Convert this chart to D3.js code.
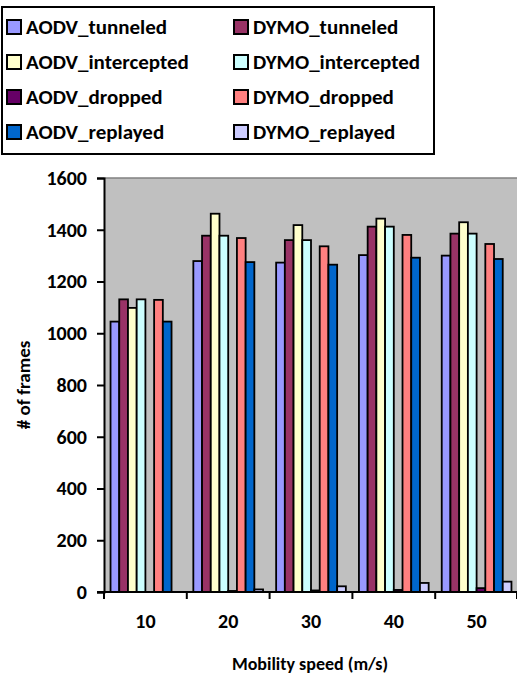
<!DOCTYPE html>
<html>
<head>
<meta charset="utf-8">
<script src="https://cdn.jsdelivr.net/npm/d3@7"></script>
<style>
  html, body { margin: 0; padding: 0; background: #fff; }
  svg { display: block; }
  text { font-family: Carlito, Calibri, Lato, "Open Sans", sans-serif; font-weight: bold; fill: #000; }
</style>
</head>
<body>
<svg id="chart" width="517" height="678"></svg>
<script>
// Mobility speeds on the x axis
const speeds = ["10", "20", "30", "40", "50"];

// Series, in drawing order
const seriesNames = [
  "AODV_tunneled", "DYMO_tunneled",
  "AODV_intercepted", "DYMO_intercepted",
  "AODV_dropped", "DYMO_dropped",
  "AODV_replayed", "DYMO_replayed"
];
const seriesColors = [
  "#9999FF", "#993366",
  "#FFFFCC", "#CCFFFF",
  "#660066", "#FF8080",
  "#0066CC", "#CCCCFF"
];

// Frame counts per series, one value per speed
const AODV_tunneled    = [1045, 1279, 1273, 1302, 1300];
const DYMO_tunneled    = [1131, 1377, 1360, 1412, 1385];
const AODV_intercepted = [1098, 1462, 1418, 1443, 1429];
const DYMO_intercepted = [1131, 1377, 1360, 1412, 1385];
const AODV_dropped     = [0, 4, 6, 8, 15];
const DYMO_dropped     = [1129, 1368, 1336, 1380, 1345];
const AODV_replayed    = [1045, 1275, 1265, 1292, 1287];
const DYMO_replayed    = [0, 10, 22, 35, 40];

const seriesValues = [
  AODV_tunneled, DYMO_tunneled,
  AODV_intercepted, DYMO_intercepted,
  AODV_dropped, DYMO_dropped,
  AODV_replayed, DYMO_replayed
];

const yTicks = [0, 200, 400, 600, 800, 1000, 1200, 1400, 1600];

const svg = d3.select("#chart");

const plot = { left: 104, right: 518, top: 178, bottom: 592 };

const x0 = d3.scaleBand().domain(speeds).range([plot.left, plot.right]).paddingInner(0).paddingOuter(0);
const x1 = d3.scaleBand().domain(seriesNames).range([0, x0.bandwidth()]).paddingInner(0).paddingOuter(0.75);
const y = d3.scaleLinear().domain([0, 1600]).range([plot.bottom, plot.top]);

// Plot background
svg.append("rect")
  .attr("x", plot.left).attr("y", plot.top)
  .attr("width", plot.right - plot.left).attr("height", plot.bottom - plot.top)
  .attr("fill", "#C0C0C0");
svg.append("line")
  .attr("x1", plot.left).attr("x2", plot.right)
  .attr("y1", plot.top).attr("y2", plot.top)
  .attr("stroke", "#808080").attr("stroke-width", 1.5);

// Bars
const rows = [];
speeds.forEach((s, i) => {
  seriesNames.forEach((name, j) => {
    rows.push({ speed: s, series: name, value: seriesValues[j][i], color: seriesColors[j] });
  });
});

svg.append("g").selectAll("rect")
  .data(rows.filter(d => d.value > 0))
  .join("rect")
  .attr("x", d => x0(d.speed) + x1(d.series))
  .attr("y", d => y(d.value))
  .attr("width", x1.bandwidth())
  .attr("height", d => y(0) - y(d.value))
  .attr("fill", d => d.color)
  .attr("stroke", "#000")
  .attr("stroke-width", 1.8);

// Y axis
const yAxis = d3.axisLeft(y).tickValues(yTicks).tickSize(7).tickPadding(10).tickFormat(d3.format("d"));
const gy = svg.append("g").attr("transform", `translate(${plot.left},0)`).call(yAxis);
gy.select(".domain").attr("stroke", "#000").attr("stroke-width", 2);
gy.selectAll(".tick line").attr("stroke", "#000").attr("stroke-width", 2);
gy.selectAll(".tick text").style("font-size", "20px").style("font-family", "Carlito, Calibri, Lato, sans-serif").style("font-weight", "bold");

// X axis: ticks sit on the category boundaries
const gx = svg.append("g").attr("transform", `translate(0,${plot.bottom})`);
gx.append("line")
  .attr("x1", plot.left - 7).attr("x2", plot.right)
  .attr("stroke", "#000").attr("stroke-width", 2);
const boundaries = speeds.map(s => x0(s)).concat([plot.right - 1]);
gx.selectAll("line.tick")
  .data(boundaries)
  .join("line").attr("class", "tick")
  .attr("x1", d => d).attr("x2", d => d)
  .attr("y1", 0).attr("y2", 7)
  .attr("stroke", "#000").attr("stroke-width", 2);
gx.selectAll("text")
  .data(speeds)
  .join("text")
  .attr("x", d => x0(d) + x0.bandwidth() / 2)
  .attr("y", 36)
  .attr("text-anchor", "middle")
  .style("font-size", "20px")
  .text(d => d);

// Axis titles
svg.append("text")
  .attr("x", 310).attr("y", 670)
  .attr("text-anchor", "middle")
  .style("font-size", "18px")
  .text("Mobility speed (m/s)");
svg.append("text")
  .attr("transform", "translate(30,385) rotate(-90)")
  .attr("text-anchor", "middle")
  .style("font-size", "19px")
  .text("# of frames");

// Legend
const legend = svg.append("g");
legend.append("rect")
  .attr("x", 2).attr("y", 7)
  .attr("width", 432).attr("height", 147)
  .attr("fill", "#fff").attr("stroke", "#000").attr("stroke-width", 2);
const colX = [7, 234];
const rowY = [27, 62, 97, 132];
const items = legend.selectAll("g.item")
  .data(seriesNames.map((n, i) => ({ name: n, color: seriesColors[i], col: i % 2, row: Math.floor(i / 2) })))
  .join("g").attr("class", "item")
  .attr("transform", d => `translate(${colX[d.col]},${rowY[d.row]})`);
items.append("rect")
  .attr("x", 0).attr("y", -7)
  .attr("width", 14).attr("height", 14)
  .attr("fill", d => d.color)
  .attr("stroke", "#000").attr("stroke-width", 2);
items.append("text")
  .attr("x", 19).attr("y", 7)
  .style("font-size", "21px")
  .text(d => d.name);
</script>
</body>
</html>
